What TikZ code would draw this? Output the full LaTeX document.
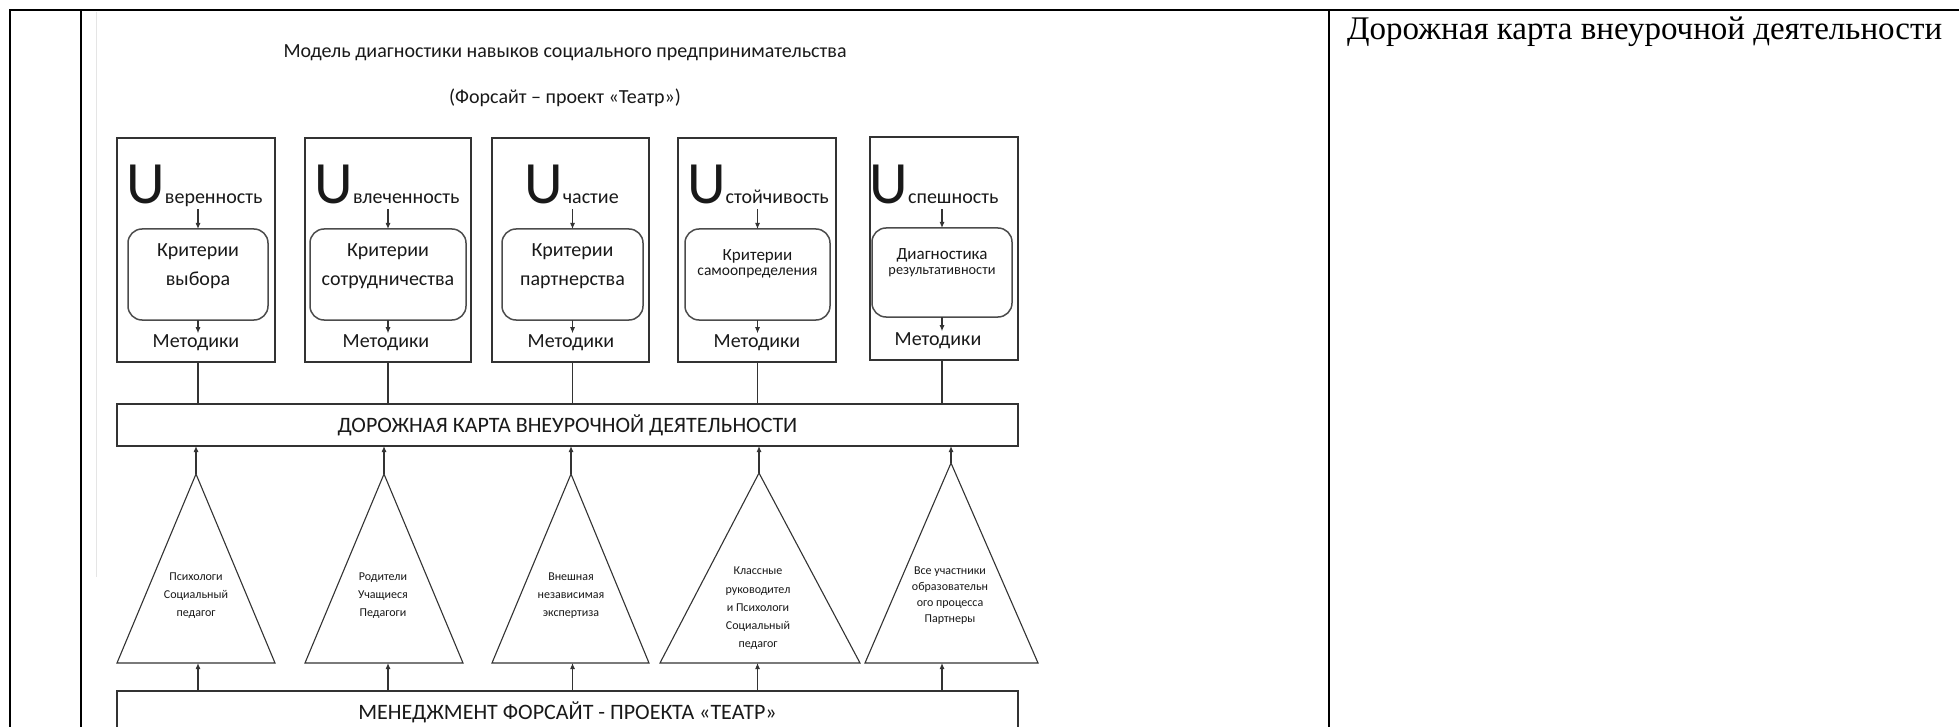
\documentclass[tikz,border=0pt]{standalone}
\usepackage{fontspec}
\setmainfont{Carlito}
\newfontfamily\timesfont{Liberation Serif}
\usetikzlibrary{arrows.meta}
\newcommand{\bigU}{{\fontsize{60}{60}\selectfont U}}
\begin{document}
\begin{tikzpicture}[x=1pt,y=-1pt,
  tbl/.style={line width=2pt, black},
  dl/.style={line width=1.1pt, black!80},
  arr/.style={dl, -{Latex[length=6pt,width=5pt]}},
  topbox/.style={draw=black!80, line width=1.1pt, minimum height=224pt, inner sep=0pt, outer sep=0pt},
  critbox/.style={draw=black!70, line width=1.5pt, rounded corners=14pt, minimum height=91pt, inner sep=0pt, outer sep=0pt},
  head/.style={inner sep=0pt, text depth=5pt, text=black!90, font=\fontsize{20}{24}\selectfont},
  crit/.style={align=center, text=black!90, inner sep=0pt},
  meth/.style={inner sep=1.5pt, text=black!90, font=\fontsize{20}{24}\selectfont},
  bar/.style={minimum width=901pt, minimum height=42pt, inner sep=0pt, outer sep=0pt, text=black!90, font=\fontsize{22}{26}\selectfont},
  tritext/.style={align=center, inner sep=0pt, text=black!90},
  ttl/.style={text=black!90, font=\fontsize{20}{24}\selectfont}
]
\useasboundingbox (0,0) rectangle (1959,727);
\fill[white] (0,0) rectangle (1959,727);
\coordinate (pagebottom) at (0,727);

% table frame
\draw[tbl] (10,727) -- (10,10) -- (1959,10);
\draw[tbl] (81,10) -- (81,727);
\draw[tbl] (1329,10) -- (1329,727);
\draw[black!10, line width=1pt] (96,12) -- (96,577);

% right column text
\node[anchor=base west, inner sep=0pt, font=\timesfont\fontsize{33}{40}\selectfont] (rt) at (1347,40) {Дорожная карта внеурочной деятельности};

% titles
\node[ttl] (title) at (565,53) {Модель диагностики навыков социального предпринимательства};
\node[ttl] (subtitle) at (565,98) {(Форсайт – проект «Театр»)};

% top boxes
\node[topbox, minimum width=158pt] (b1) at (196,250) {};
\node[topbox, minimum width=166pt] (b2) at (388,250) {};
\node[topbox, minimum width=157pt] (b3) at (570.5,250) {};
\node[topbox, minimum width=158pt] (b4) at (757,250) {};
\node[topbox, minimum width=148pt, minimum height=223pt] (b5) at (944,248.5) {};

% headings
\node[head, anchor=base] (h1) at (194.5,204) {\bigU веренность};
\node[head, anchor=base] (h2) at (387,204) {\bigU влеченность};
\node[head, anchor=base] (h3) at (571.5,204) {\bigU частие};
\node[head, anchor=base] (h4) at (758,204) {\bigU стойчивость};
\node[head, anchor=base] (h5) at (934,204) {\bigU спешность};

% criteria boxes
\node[critbox, minimum width=140pt] (r1) at (198,274.5) {};
\node[critbox, minimum width=156pt] (r2) at (388,274.5) {};
\node[critbox, minimum width=141pt] (r3) at (572.5,274.5) {};
\node[critbox, minimum width=145pt] (r4) at (757.5,274.5) {};
\node[critbox, minimum width=140pt, minimum height=89pt] (r5) at (942,272.5) {};

\node[crit, font=\fontsize{20}{29}\selectfont] (r1t) at (198,266.5) {Критерии\\выбора};
\node[crit, font=\fontsize{20}{29}\selectfont] (r2t) at (388,266.5) {Критерии\\сотрудничества};
\node[crit, font=\fontsize{20}{29}\selectfont] (r3t) at (572.5,266.5) {Критерии\\партнерства};
\node[crit] (r4t) at (757.5,263.5) {{\fontsize{17}{20}\selectfont Критерии}\\[3pt]{\fontsize{15.5}{18}\selectfont самоопределения}};
\node[crit] (r5t) at (942,263) {{\fontsize{17}{20}\selectfont Диагностика}\\[3pt]{\fontsize{14.3}{17}\selectfont результативности}};

% methods
\node[meth] (m1) at (196,343) {Методики};
\node[meth] (m2) at (386,343) {Методики};
\node[meth] (m3) at (571,343) {Методики};
\node[meth] (m4) at (757,343) {Методики};
\node[meth] (m5) at (938,341) {Методики};

\foreach \i in {1,...,5}{
  \draw[arr] (r\i.north |- h\i.south) -- (r\i.north);
  \draw[arr] (r\i.south) -- (r\i.south |- m\i.north);
}

% road map bar
\node[bar, draw=black!80, line width=1.1pt] (road) at (567.5,425) {ДОРОЖНАЯ КАРТА ВНЕУРОЧНОЙ ДЕЯТЕЛЬНОСТИ};
\foreach \i in {1,...,5}{
  \draw[dl] (r\i.south |- b\i.south) -- (r\i.south |- road.north);
}

% triangles
\coordinate (t1a) at (196,474); \coordinate (t1l) at (117,663); \coordinate (t1r) at (275,663);
\coordinate (t2a) at (384,474); \coordinate (t2l) at (305,663); \coordinate (t2r) at (463,663);
\coordinate (t3a) at (571,474); \coordinate (t3l) at (492,663); \coordinate (t3r) at (649,663);
\coordinate (t4a) at (759,473); \coordinate (t4l) at (660,663); \coordinate (t4r) at (860,663);
\coordinate (t5a) at (951,463); \coordinate (t5l) at (865,663); \coordinate (t5r) at (1038,663);
\foreach \i in {1,...,5}{
  \draw[dl, line join=miter] (t\i l) -- (t\i a) -- (t\i r) -- cycle;
  \draw[arr] (t\i a) -- (t\i a |- road.south);
}

\node[tritext, font=\fontsize{12}{18}\selectfont] (t1t) at (196,596) {Психологи\\Социальный\\педагог};
\node[tritext, font=\fontsize{12}{18}\selectfont] (t2t) at (383,596) {Родители\\Учащиеся\\Педагоги};
\node[tritext, font=\fontsize{12}{18}\selectfont] (t3t) at (571,596) {Внешная\\независимая\\экспертиза};
\node[tritext, font=\fontsize{12}{18.3}\selectfont] (t4t) at (758,608.5) {Классные\\руководител\\и Психологи\\Социальный\\педагог};
\node[tritext, font=\fontsize{12}{16}\selectfont] (t5t) at (950,596) {Все участники\\образовательн\\ого процесса\\Партнеры};

% management bar
\node[bar] (mgmt) at (567.5,712) {МЕНЕДЖМЕНТ ФОРСАЙТ - ПРОЕКТА «ТЕАТР»};
\draw[dl] (mgmt.north west |- pagebottom) -- (mgmt.north west) -- (mgmt.north east) -- (mgmt.north east |- pagebottom);
\foreach \i in {1,...,5}{
  \draw[arr] (r\i.south |- mgmt.north) -- (r\i.south |- t\i l);
}
\end{tikzpicture}
\end{document}
